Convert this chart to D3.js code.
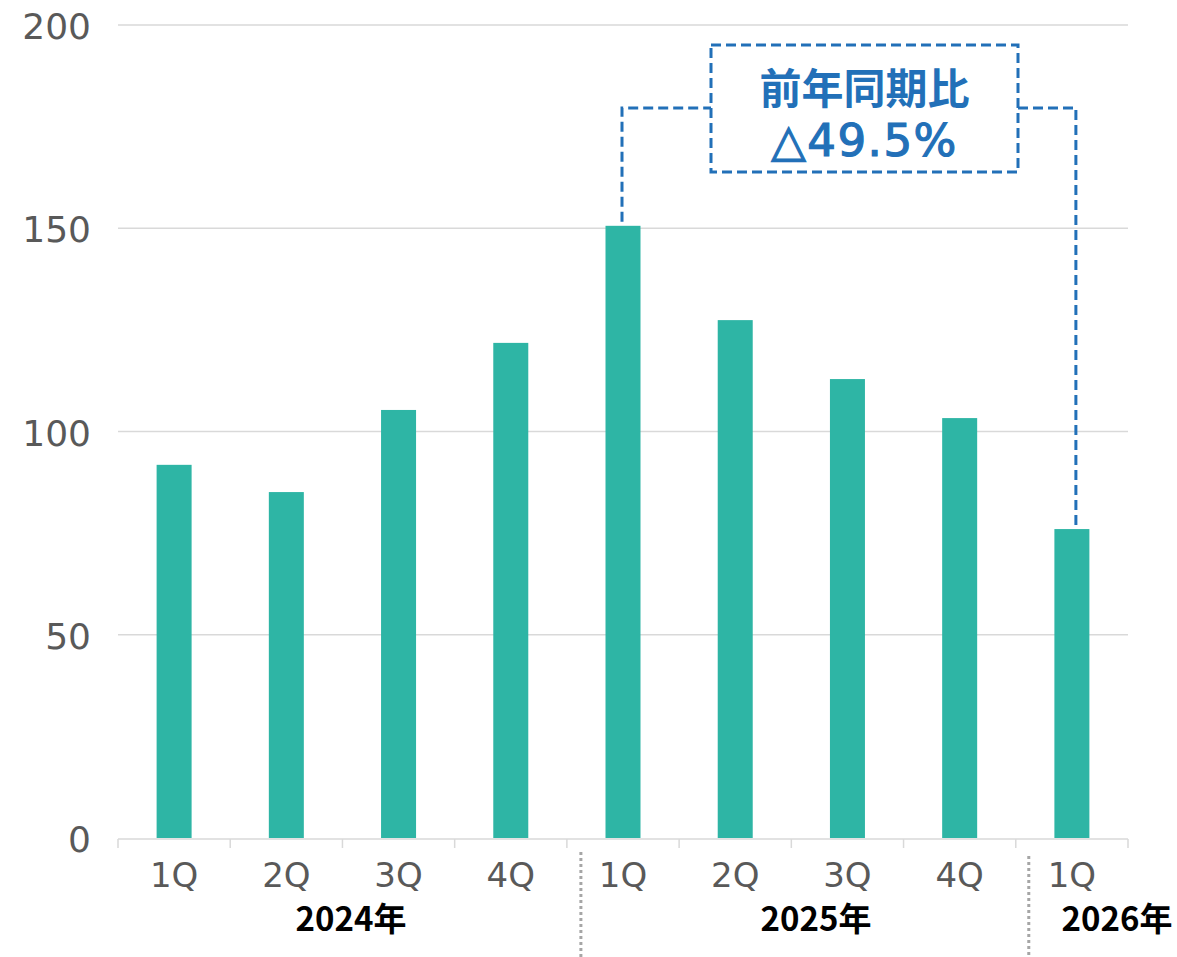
<!DOCTYPE html>
<html><head><meta charset="utf-8">
<script src="https://cdn.jsdelivr.net/npm/d3@7"></script>
<style>body{margin:0;background:#fff}svg{display:block}</style>
</head><body>
<svg id="c" width="1177" height="957"></svg>
<script>
const quarters = ["1Q","2Q","3Q","4Q","1Q","2Q","3Q","4Q","1Q"];
const values = [91.8, 85.1, 105.3, 121.8, 150.6, 127.4, 112.9, 103.3, 76.0];
const yTicks = [0, 50, 100, 150, 200];
const years = [{label:"2024年", from:0, to:3}, {label:"2025年", from:4, to:7}, {label:"2026年", from:8, to:8}];
const annoLines = ["前年同期比", "△49.5%"];
const annoFrom = 4, annoTo = 8;

(function(){
const svg = d3.select("#c");
const pL = 118, pR = 1128, pT = 25, pB = 838;
const idx = d3.range(values.length);
const x = d3.scaleBand().domain(idx).range([pL, pR]).paddingInner(0).paddingOuter(0);
const y = d3.scaleLinear().domain([0, 200]).range([pB, pT]);
const bw = 35;
const numFont = "'DejaVu Sans', sans-serif";
const jpFont = "'Noto Sans CJK JP', sans-serif";

// gridlines
svg.append("g").selectAll("line").data(yTicks.filter(d=>d>0)).join("line")
  .attr("x1", pL).attr("x2", pR).attr("y1", d=>y(d)).attr("y2", d=>y(d))
  .attr("stroke", "#d9d9d9").attr("stroke-width", 1.5);

// y labels
svg.append("g").selectAll("text").data(yTicks).join("text")
  .attr("x", 91).attr("y", d=>y(d)+14).attr("text-anchor","end")
  .attr("font-family", numFont).attr("font-size", 36).attr("fill","#595959")
  .text(d=>d);

// bars
svg.append("g").selectAll("rect").data(values).join("rect")
  .attr("x", (d,i)=>x(i)+x.bandwidth()/2-bw/2).attr("width", bw)
  .attr("y", d=>y(d)).attr("height", d=>y(0)-y(d))
  .attr("fill", "#2eb5a5");

// x axis
const axis = svg.append("g");
axis.append("line").attr("x1", pL).attr("x2", pR).attr("y1", pB+1).attr("y2", pB+1)
  .attr("stroke","#d9d9d9").attr("stroke-width",1.5);
axis.selectAll("line.t").data(d3.range(values.length+1)).join("line").attr("class","t")
  .attr("x1", d=> d<values.length ? x(d) : pR).attr("x2", d=> d<values.length ? x(d) : pR)
  .attr("y1", pB+1).attr("y2", pB+10).attr("stroke","#d9d9d9").attr("stroke-width",1.5);
axis.selectAll("text").data(quarters).join("text")
  .attr("x", (d,i)=>x(i)+x.bandwidth()/2).attr("y", 887).attr("text-anchor","middle")
  .attr("font-family", numFont).attr("font-size", 34).attr("fill","#595959")
  .text(d=>d);

// year labels
const yearX = [351, 816, 1117];
svg.append("g").selectAll("text").data(years).join("text")
  .attr("x", (d,i)=>yearX[i]).attr("y", 931).attr("text-anchor","middle")
  .attr("font-family", jpFont).attr("font-weight","bold").attr("font-size", 33).attr("fill","#000")
  .text(d=>d.label);

// year separators
const sepX = [x(4)+14, x(8)+13];
const sepTop = [852, 856];
svg.append("g").selectAll("line").data(sepX).join("line")
  .attr("x1", d=>d).attr("x2", d=>d).attr("y1", (d,i)=>sepTop[i]).attr("y2", 957)
  .attr("stroke","#a6a6a6").attr("stroke-width",3).attr("stroke-dasharray","3,3");

// annotation
const blue = "#2270b8";
const cx1 = x(annoFrom)+x.bandwidth()/2 - 1;
const cx2 = x(annoTo)+x.bandwidth()/2 + 4;
const boxL = 711, boxR = 1018, boxT = 45, boxB = 172, linkY = 108;
const g = svg.append("g").attr("fill","none").attr("stroke", blue).attr("stroke-width",3).attr("stroke-dasharray","10,5");
g.append("rect").attr("x", boxL).attr("y", boxT).attr("width", boxR-boxL).attr("height", boxB-boxT);
g.append("path").attr("d", `M${cx1},${y(values[annoFrom])-4}V${linkY}H${boxL}`);
g.append("path").attr("d", `M${boxR},${linkY}H${cx2}V${y(values[annoTo])-3}`);
svg.append("g").selectAll("text").data(annoLines).join("text")
  .attr("x", (boxL+boxR)/2).attr("y", (d,i)=> i===0 ? 104 : 156).attr("text-anchor","middle")
  .attr("font-family", (d,i)=> i===0 ? jpFont : numFont).attr("font-weight", (d,i)=> i===0 ? "bold" : "normal")
  .attr("font-size", (d,i)=> i===0 ? 42 : 45).attr("letter-spacing", (d,i)=> i===0 ? 0 : 1.5)
  .attr("stroke", (d,i)=> i===0 ? "none" : blue).attr("stroke-width", 1.2)
  .attr("fill", blue)
  .text(d=>d);
})();
</script>
</body></html>
